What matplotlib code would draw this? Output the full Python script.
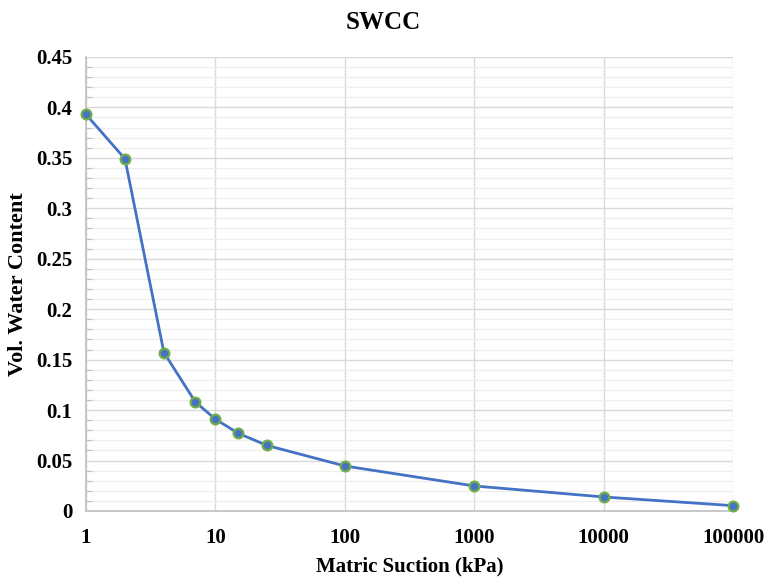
import numpy as np
import matplotlib
matplotlib.use("Agg")
import matplotlib.pyplot as plt
from matplotlib.ticker import FixedLocator, MultipleLocator, FixedFormatter

# Soil-water characteristic curve data
suction_kpa = [1, 2, 4, 7, 10, 15, 25, 100, 1000, 10000, 100000]
vol_water_content = [0.393, 0.349, 0.157, 0.108, 0.091, 0.077, 0.065, 0.0446, 0.0248, 0.0139, 0.0053]
x_ticks = [1, 10, 100, 1000, 10000, 100000]
x_tick_labels = ["1", "10", "100", "1000", "10000", "100000"]
y_ticks = [0, 0.05, 0.1, 0.15, 0.2, 0.25, 0.3, 0.35, 0.4, 0.45]
y_tick_labels = ["0", "0.05", "0.1", "0.15", "0.2", "0.25", "0.3", "0.35", "0.4", "0.45"]

plt.rcParams["font.family"] = ["Liberation Serif", "DejaVu Serif"]
plt.rcParams["font.weight"] = "bold"

fig = plt.figure(figsize=(7.66, 5.81), dpi=100)
ax = fig.add_axes([0.1123, 0.1205, 0.957 - 0.1123, 0.902 - 0.1205])

ax.set_xscale("log")
ax.set_xlim(1, 100000)
ax.set_ylim(0, 0.45)

ax.plot(suction_kpa, vol_water_content, color="#4472C4", lw=2.0, zorder=3,
        solid_joinstyle="round", solid_capstyle="round")
ax.plot(suction_kpa, vol_water_content, linestyle="none", marker="o", markersize=7,
        markerfacecolor="#4472C4", markeredgecolor="#70AD47", markeredgewidth=1.6,
        zorder=4, clip_on=False)

# Axes styling
ax.xaxis.set_major_locator(FixedLocator(x_ticks))
ax.xaxis.set_major_formatter(FixedFormatter(x_tick_labels))
ax.xaxis.set_minor_locator(FixedLocator([]))
ax.yaxis.set_major_locator(FixedLocator(y_ticks))
ax.yaxis.set_major_formatter(FixedFormatter(y_tick_labels))
ax.yaxis.set_minor_locator(MultipleLocator(0.01))

ax.grid(which="major", axis="both", color="#d9d9d9", lw=1.0)
ax.grid(which="minor", axis="y", color="#eeeeee", lw=0.9)
ax.set_axisbelow(True)

for side in ["top", "right"]:
    ax.spines[side].set_visible(False)
for side in ["left", "bottom"]:
    ax.spines[side].set_color("#bfbfbf")
    ax.spines[side].set_linewidth(1.2)

ax.tick_params(axis="both", which="major", length=0, labelsize=15, colors="#000000")
ax.tick_params(axis="x", which="major", pad=12)
ax.tick_params(axis="y", which="major", pad=10)
ax.tick_params(axis="y", which="minor", direction="in", length=4, color="#bfbfbf", width=0.8)

for lbl in ax.get_xticklabels() + ax.get_yticklabels():
    lbl.set_fontweight("bold")

fig.text(0.5, 0.962, "SWCC", ha="center", va="center", fontsize=18, fontweight="bold")
ax.set_xlabel("Matric Suction (kPa)", fontsize=15, fontweight="bold", labelpad=6)
ax.set_ylabel("Vol. Water Content", fontsize=16, fontweight="bold")
ax.yaxis.set_label_coords(18 / 766, 0.5, transform=fig.transFigure)
ax.yaxis.label.set_va("center")
ax.yaxis.label.set_y((581 - 284) / 581)

fig.savefig("out.png", dpi=100, facecolor="white")
